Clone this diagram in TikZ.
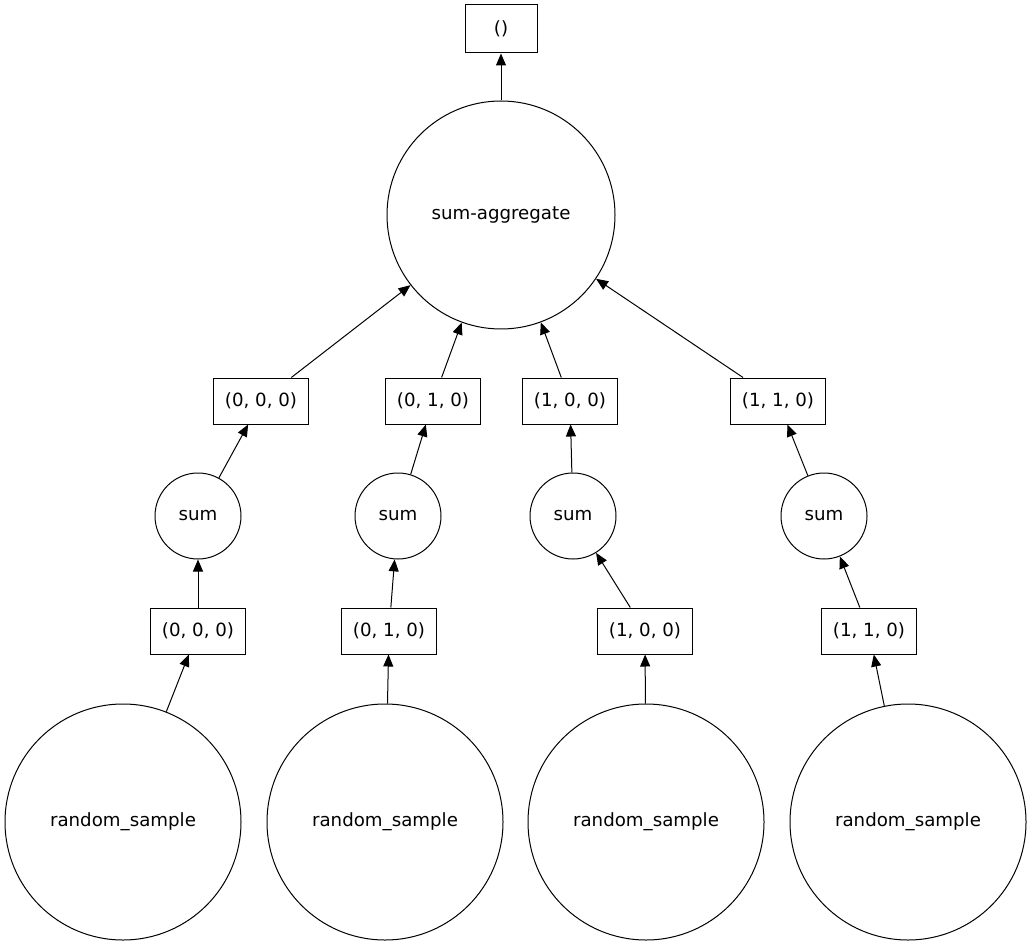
\documentclass[tikz,border=0pt]{standalone}
\usepackage{fontspec}
\setmainfont{DejaVu Sans}
\usetikzlibrary{arrows.meta}

\tikzset{
  box/.style={draw,thick,line width=0.5pt,rectangle,minimum width=47.5pt,minimum height=23pt,inner sep=0pt},
  blob/.style={draw,line width=0.5pt,circle,inner sep=0pt},
  dep/.style={line width=0.5pt,-{Triangle[length=6pt,width=5pt]}}
}

\begin{document}
\begin{tikzpicture}[x=0.5pt,y=-0.5pt,font=\fontsize{9.1}{11}\selectfont]
     \useasboundingbox (0,0) rectangle (1032,946);

     \node[box,minimum width=36pt,minimum height=24pt] (out) at (501,29) {()};
     \node[blob,minimum size=114pt] (agg) at (501,215) {sum-aggregate};

     \node[box] (c000) at (261,401) {(0, 0, 0)};
     \node[box] (c010) at (433,401) {(0, 1, 0)};
     \node[box] (c100) at (570,401) {(1, 0, 0)};
     \node[box] (c110) at (778,401) {(1, 1, 0)};

     \node[blob,minimum size=43pt] (s000) at (198,516) {sum};
     \node[blob,minimum size=43pt] (s010) at (398,516) {sum};
     \node[blob,minimum size=43pt] (s100) at (573,516) {sum};
     \node[blob,minimum size=43pt] (s110) at (824,516) {sum};

     \node[box] (b000) at (198,631) {(0, 0, 0)};
     \node[box] (b010) at (389,631) {(0, 1, 0)};
     \node[box] (b100) at (645,631) {(1, 0, 0)};
     \node[box] (b110) at (869,631) {(1, 1, 0)};

     \node[blob,minimum size=118pt] (r000) at (123,822) {random\_sample};
     \node[blob,minimum size=118pt] (r010) at (385,822) {random\_sample};
     \node[blob,minimum size=118pt] (r100) at (646,822) {random\_sample};
     \node[blob,minimum size=118pt] (r110) at (908,822) {random\_sample};

     \draw[dep] (agg) -- (out);
     \foreach \k in {000,010,100,110} {
       \draw[dep] (r\k) -- (b\k);
       \draw[dep] (b\k) -- (s\k);
       \draw[dep] (s\k) -- (c\k);
       \draw[dep] (c\k) -- (agg);
     }
\end{tikzpicture}
\end{document}
